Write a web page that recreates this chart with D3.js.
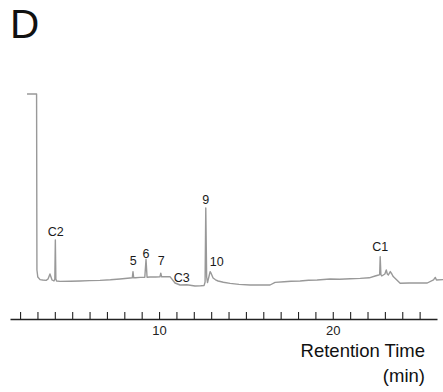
<!DOCTYPE html>
<html>
<head>
<meta charset="utf-8">
<script src="https://cdn.jsdelivr.net/npm/d3@7"></script>
<style>
  html, body { margin: 0; padding: 0; background: #fff; }
  svg { display: block; font-family: "Liberation Sans", Arial, Helvetica, sans-serif; }
</style>
</head>
<body>
<svg id="chart" width="443" height="392"></svg>
<script>
// Chromatogram trace: retention time (min) and detector signal (arbitrary units)
const traceTime = [
  2.40, 2.95, 2.97, 3.02, 3.15, 3.30, 3.50, 3.61, 3.72, 3.84, 3.95, 4.00, 4.03, 4.06, 4.10,
  4.30, 4.90, 5.45, 6.00, 6.60, 7.20, 7.75, 8.33, 8.46, 8.50, 8.54, 8.65, 8.91, 9.18, 9.25,
  9.31, 9.48, 9.80, 10.05, 10.10, 10.15, 10.40, 10.63, 10.92, 11.21, 11.60, 12.07, 12.40, 12.59,
  12.65, 12.69, 12.74, 12.79, 12.88, 12.94, 13.00, 13.11, 13.25, 13.40, 13.70, 14.09, 14.60, 15.24,
  15.90, 16.39, 16.68, 17.20, 17.60, 18.12, 18.60, 19.10, 19.85, 20.40, 21.00, 21.58, 22.10, 22.44,
  22.64, 22.70, 22.73, 22.77, 22.82, 23.00, 23.08, 23.14, 23.20, 23.31, 23.40, 23.48, 23.88, 24.40,
  25.00, 25.44, 25.80, 25.90, 25.97, 26.35
];
const traceSignal = [
  100.5, 100.5, 12.5, 9.0, 7.7, 7.5, 7.3, 8.0, 10.5, 7.5, 7.0, 8.0, 27.5, 8.0, 7.0,
  6.8, 6.9, 7.0, 7.2, 7.3, 7.6, 8.0, 8.5, 8.6, 11.7, 8.6, 8.6, 8.8, 8.9, 17.9,
  8.9, 9.0, 9.0, 9.1, 10.9, 9.1, 9.1, 9.2, 6.0, 5.0, 5.1, 4.5, 4.6, 4.7,
  6.5, 43.5, 9.0, 6.2, 9.5, 11.7, 10.8, 8.5, 7.6, 7.0, 6.4, 5.8, 5.3, 5.0,
  5.0, 5.0, 6.3, 6.6, 6.9, 7.0, 7.4, 7.5, 8.0, 7.9, 8.1, 8.3, 8.6, 9.5,
  10.0, 10.2, 19.2, 10.2, 9.5, 10.5, 12.5, 10.5, 10.0, 11.7, 10.5, 9.2, 5.9, 6.0,
  6.0, 6.0, 7.6, 8.8, 7.5, 7.7
];

// Peak annotations: name, retention time and signal level of the label baseline
const peakNames  = ["C2", "5", "6", "7", "C3", "9", "10", "C1"];
const peakTimes  = [4.05, 8.52, 9.25, 10.13, 11.31, 12.69, 13.32, 22.73];
const peakLevels = [29.5, 15.0, 18.35, 15.0, 6.65, 45.35, 14.65, 22.15];

// Axis ticks: one per minute, labelled every ten minutes
const tickValues = d3.range(2, 26);
const tickLabels = [10, 20];

const svg = d3.select("#chart");

const x = d3.scaleLinear().domain([1.42, 26.0]).range([10, 437]);
const y = d3.scaleLinear().domain([0, 100]).range([295, 95]);

// Panel letter
svg.append("text")
  .attr("x", 10).attr("y", 38)
  .attr("font-size", 40.5)
  .attr("fill", "#111")
  .text("D");

// Trace
const points = traceTime.map((t, i) => [t, traceSignal[i]]);
svg.append("path")
  .datum(points)
  .attr("fill", "none")
  .attr("stroke", "#999")
  .attr("stroke-width", 1.4)
  .attr("stroke-linejoin", "round")
  .attr("d", d3.line().x(d => x(d[0])).y(d => y(d[1])));

// Peak labels
svg.append("g")
  .selectAll("text")
  .data(peakNames)
  .join("text")
  .attr("x", (d, i) => x(peakTimes[i]))
  .attr("y", (d, i) => y(peakLevels[i]))
  .attr("text-anchor", "middle")
  .attr("font-size", 12.5)
  .attr("fill", "#1a1a1a")
  .text(d => d);

// Time axis with upward ticks
const axis = d3.axisBottom(x)
  .tickValues(tickValues)
  .tickSizeInner(-7)
  .tickSizeOuter(0)
  .tickPadding(7)
  .tickFormat(d => tickLabels.includes(d) ? d : "");

const gx = svg.append("g")
  .attr("transform", "translate(0,319)")
  .call(axis);
gx.select(".domain").attr("stroke", "#222").attr("stroke-width", 1.6);
gx.selectAll(".tick line").attr("stroke", "#222").attr("stroke-width", 1.1);
gx.selectAll(".tick text")
  .attr("font-size", 13)
  .attr("font-family", "'Liberation Sans', Arial, sans-serif")
  .attr("fill", "#222");

// Axis title
const title = svg.append("text")
  .attr("text-anchor", "end")
  .attr("font-size", 18.5)
  .attr("fill", "#111");
title.append("tspan").attr("x", 425).attr("y", 356.5).text("Retention Time");
title.append("tspan").attr("x", 425).attr("y", 381.5).text("(min)");
</script>
</body>
</html>
